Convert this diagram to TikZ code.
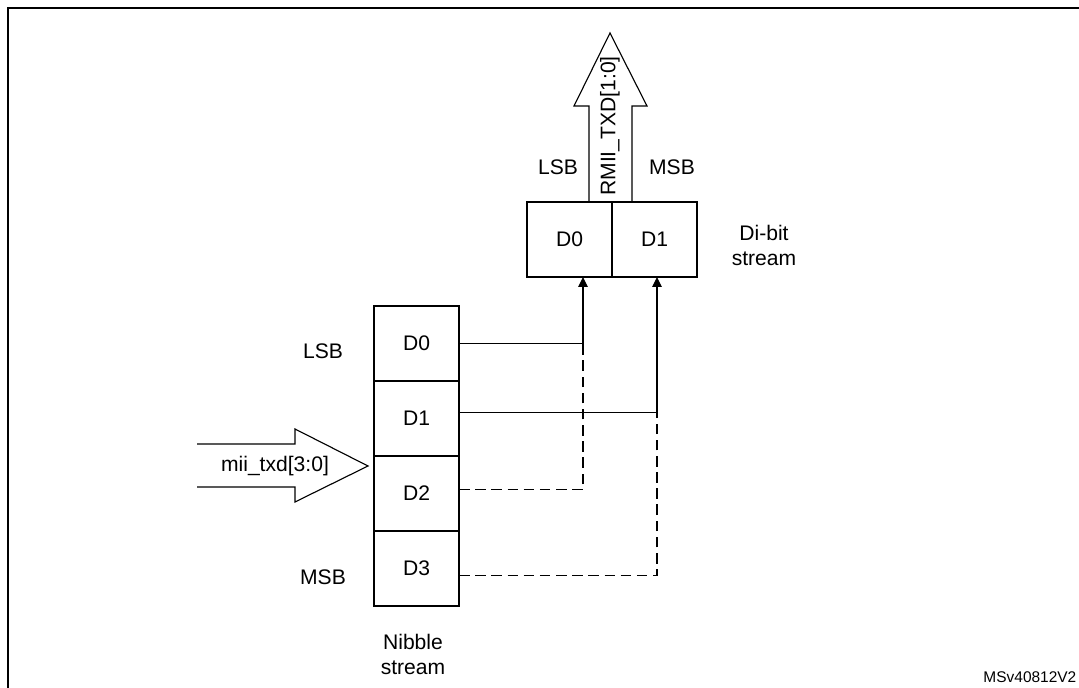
\documentclass[tikz,border=0pt]{standalone}
\usepackage{fontspec}
\setmainfont{Liberation Sans}
\usepackage{tikz}
\usetikzlibrary{arrows.meta}

\tikzset{
  cell/.style={draw, line width=0.9pt, minimum width=2.125cm, minimum height=1.875cm, inner sep=0pt, outer sep=0pt},
  conn/.style={line width=0.8pt},
  dashconn/.style={line width=0.8pt, dash pattern=on 7.5pt off 4pt},
  tip/.style={-{Triangle[length=0.25cm,width=0.24cm]}},
  bigarrow/.style={line width=0.8pt, line join=miter}
}

\begin{document}
\begin{tikzpicture}[font=\fontsize{15}{17.8}\selectfont]
  \useasboundingbox (0,0) rectangle (26.975,17.2);

  % Frame
  \draw[line width=1.4pt] (0.19,0) -- (0.19,16.99) -- (26.975,16.99);

  % Nibble stream
  \node[cell] (n0) at (10.4125, 8.6125) {D0};
  \node[cell] (n1) at (10.4125, 6.7375) {D1};
  \node[cell] (n2) at (10.4125, 4.8625) {D2};
  \node[cell] (n3) at (10.4125, 2.9875) {D3};
  \node at (8.075, 8.425) {LSB};
  \node at (8.075, 2.775) {MSB};
  \node[align=center] (nib) at (10.325, 0.85) {Nibble\\stream};

  % Di-bit stream
  \node[cell] (b0) at (14.2375, 11.2125) {D0};
  \node[cell] (b1) at (16.3625, 11.2125) {D1};
  \node[align=center] (dib) at (19.1, 11.075) {Di-bit\\stream};
  \node at (13.95, 13.025) {LSB};
  \node at (16.8, 13.025) {MSB};

  % Output arrow
  \draw[bigarrow] (14.725,12.15) -- (14.725,14.55) -- (14.35,14.55) -- (15.25,16.375)
    -- (16.175,14.55) -- (15.8,14.55) -- (15.8,12.15);
  \node[rotate=90] (rmii) at (15.25, 14.05) {RMII\_TXD[1:0]};

  % Input arrow
  \draw[bigarrow] (4.925,6.1) -- (7.375,6.1) -- (7.375,6.475) -- (9.2,5.55)
    -- (7.375,4.65) -- (7.375,5.025) -- (4.925,5.025);
  \node (mii) at (6.875, 5.55) {mii\_txd[3:0]};

  % Connections
  \draw[conn, tip] (n0.east) -| coordinate[pos=0.5] (j0) ([xshift=0.3375cm]b0.south);
  \draw[conn, tip] ([yshift=0.16cm]n1.east) -| coordinate[pos=0.5] (j1) ([xshift=0.0625cm]b1.south);
  \draw[dashconn] ([yshift=0.1cm]n2.east) -| (j0);
  \draw[dashconn] ([yshift=-0.18cm]n3.east) -| (j1);

  % Reference
  \node[anchor=base east, inner sep=1pt, font=\fontsize{11}{13}\selectfont] (ref) at (26.95, 0.125) {MSv40812V2};
\end{tikzpicture}
\end{document}
